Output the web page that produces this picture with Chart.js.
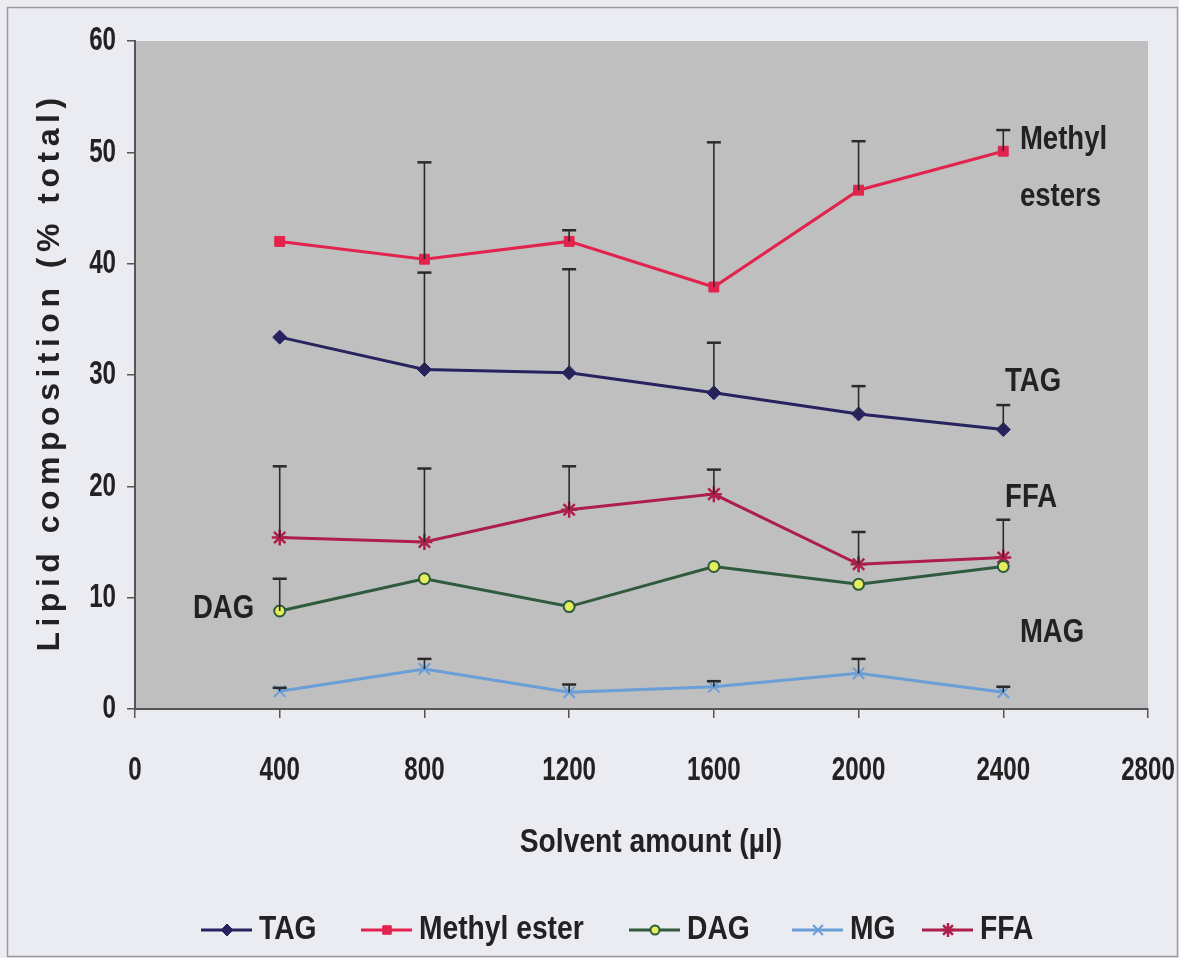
<!DOCTYPE html>
<html>
<head>
<meta charset="utf-8">
<title>Lipid composition vs solvent amount</title>
<script src="https://cdn.jsdelivr.net/npm/chart.js@4/dist/chart.umd.min.js"></script>
<style>
  html, body { margin: 0; padding: 0; background: #ebebf2; }
  #wrap { width: 1179px; height: 958px; }
</style>
</head>
<body>
<div id="wrap"><canvas id="lipidChart" width="1179" height="958"></canvas></div>
<script>
// solvent amount (µl) and lipid composition (% total) per fraction
var solvent = [400, 800, 1200, 1600, 2000, 2400];

var tag    = [33.4, 30.5, 30.2, 28.4, 26.5, 25.1];
var methyl = [42.0, 40.4, 42.0, 37.9, 46.6, 50.1];
var dag    = [8.8, 11.7, 9.2, 12.8, 11.2, 12.8];
var mg     = [1.6, 3.6, 1.5, 2.0, 3.2, 1.5];
var ffa    = [15.4, 15.0, 17.9, 19.3, 13.0, 13.6];

// upper error bars (SD)
var tagErr    = [0, 8.7, 9.3, 4.5, 2.5, 2.2];
var methylErr = [0, 8.7, 1.0, 13.0, 4.4, 1.9];
var dagErr    = [2.9, 0, 0, 0, 0, 0];
var mgErr     = [0.3, 0.9, 0.7, 0.5, 1.3, 0.5];
var ffaErr    = [6.4, 6.6, 3.9, 2.2, 2.9, 3.4];

var legendNames = ["TAG", "Methyl ester", "DAG", "MG", "FFA"];

// text labels beside the curves, in axis units
var curveLabels = [
  { text: "Methyl", x: 2446, y: 51.1 },
  { text: "esters", x: 2446, y: 46.0 },
  { text: "TAG", x: 2405, y: 29.4 },
  { text: "FFA", x: 2405, y: 19.0 },
  { text: "DAG", x: 160, y: 9.0 },
  { text: "MAG", x: 2446, y: 6.9 }
];

var FONT = "'Liberation Sans', Arial, sans-serif";
var INK = "#222222";

function pts(values) {
  return solvent.map(function (s, i) { return { x: s, y: values[i] }; });
}

function series(label, values, err, color, style, fill, radius, bw) {
  return {
    label: label,
    data: pts(values),
    errUp: err,
    borderColor: color,
    borderWidth: 3,
    pointStyle: style,
    pointRadius: radius,
    pointHoverRadius: radius,
    pointBackgroundColor: fill,
    pointBorderColor: style === "circle" ? "#2f5a3c" : color,
    pointBorderWidth: bw,
    tension: 0,
    fill: false
  };
}

var datasets = [
  series(legendNames[0], tag, tagErr, "#27235f", "rectRot", "#27235f", 7, 1),
  series(legendNames[1], methyl, methylErr, "#e2234d", "rect", "#e2234d", 7, 1),
  series(legendNames[2], dag, dagErr, "#2f5a3c", "circle", "#e4ee5c", 5.5, 2),
  series(legendNames[3], mg, mgErr, "#6a9ed6", "crossRot", "#6a9ed6", 8, 2),
  series(legendNames[4], ffa, ffaErr, "#ad1f4a", "star", "#ad1f4a", 8, 2.5)
];

// condensed bold text: squeeze horizontally around the anchor
function narrowText(ctx, text, x, y, size, sx, align) {
  ctx.save();
  ctx.fillStyle = INK;
  ctx.font = "bold " + size + "px " + FONT;
  ctx.textAlign = align || "left";
  ctx.textBaseline = "middle";
  ctx.translate(x, y);
  ctx.scale(sx, 1);
  ctx.fillText(text, 0, 0);
  ctx.restore();
}

// page colour, outer frame and the grey plot area
var backdrop = {
  id: "backdrop",
  beforeDraw: function (chart) {
    var ctx = chart.ctx, a = chart.chartArea;
    ctx.save();
    ctx.fillStyle = "#ebebf2";
    ctx.fillRect(0, 0, chart.width, chart.height);
    ctx.strokeStyle = "#9a9a9e";
    ctx.lineWidth = 1.5;
    ctx.strokeRect(7.5, 7.5, chart.width - 9, chart.height - 9);
    ctx.fillStyle = "#bfbfc0";
    ctx.fillRect(a.left, a.top, a.right - a.left, a.bottom - a.top);
    ctx.restore();
  }
};

// one-sided (upper) error bars with caps
var errorBars = {
  id: "errorBars",
  afterDatasetsDraw: function (chart) {
    var ctx = chart.ctx, xs = chart.scales.x, ys = chart.scales.y;
    ctx.save();
    ctx.strokeStyle = "#2a2a2a";
    ctx.lineWidth = 1.6;
    chart.data.datasets.forEach(function (ds) {
      ds.data.forEach(function (p, i) {
        var e = ds.errUp[i];
        if (!e) return;
        var px = xs.getPixelForValue(p.x);
        var y0 = ys.getPixelForValue(p.y);
        var y1 = ys.getPixelForValue(p.y + e);
        ctx.beginPath();
        ctx.moveTo(px, y0);
        ctx.lineTo(px, y1);
        ctx.stroke();
        ctx.lineWidth = 2.5;
        ctx.beginPath();
        ctx.moveTo(px - 7, y1);
        ctx.lineTo(px + 7, y1);
        ctx.stroke();
        ctx.lineWidth = 1.6;
      });
    });
    ctx.restore();
  }
};

// tick labels, axis titles, curve labels and the legend row
var texts = {
  id: "texts",
  afterDraw: function (chart) {
    var ctx = chart.ctx, xs = chart.scales.x, ys = chart.scales.y, a = chart.chartArea;
    var H = Chart.helpers;

    xs.ticks.forEach(function (t) {
      narrowText(ctx, String(t.value), xs.getPixelForValue(t.value), 771, 34, 0.71, "center");
    });
    ys.ticks.forEach(function (t) {
      narrowText(ctx, String(t.value), 116, ys.getPixelForValue(t.value), 34, 0.71, "right");
    });

    narrowText(ctx, "Solvent amount (µl)", 651, 843, 34, 0.83, "center");

    ctx.save();
    ctx.fillStyle = INK;
    ctx.font = "bold 32px " + FONT;
    ctx.textAlign = "center";
    ctx.textBaseline = "middle";
    ctx.translate(50, (a.top + a.bottom) / 2);
    ctx.rotate(-Math.PI / 2);
    ctx.letterSpacing = "5.5px";
    ctx.fillText("Lipid composition (% total)", 3, 0);
    ctx.restore();

    curveLabels.forEach(function (l) {
      narrowText(ctx, l.text, xs.getPixelForValue(l.x), ys.getPixelForValue(l.y), 34, 0.81, "left");
    });

    // legend
    var legendX = [201, 361, 629, 792, 922];
    var ly = 930;
    ctx.save();
    chart.data.datasets.forEach(function (ds, i) {
      var x0 = legendX[i];
      ctx.strokeStyle = ds.borderColor;
      ctx.lineWidth = 3;
      ctx.beginPath();
      ctx.moveTo(x0, ly);
      ctx.lineTo(x0 + 51, ly);
      ctx.stroke();
      ctx.fillStyle = ds.pointBackgroundColor;
      ctx.strokeStyle = ds.pointBorderColor;
      ctx.lineWidth = ds.pointBorderWidth;
      H.drawPoint(ctx, { pointStyle: ds.pointStyle, radius: ds.pointRadius - 1, rotation: 0, borderWidth: ds.pointBorderWidth }, x0 + 26, ly);
      narrowText(ctx, ds.label, x0 + 58, ly, 34, 0.83, "left");
    });
    ctx.restore();
  }
};

new Chart("lipidChart", {
  type: "line",
  data: { datasets: datasets },
  plugins: [backdrop, errorBars, texts],
  options: {
    responsive: false,
    animation: false,
    events: [],
    layout: { padding: { left: 0, top: 41, right: 31, bottom: 95 } },
    plugins: {
      legend: { display: false },
      tooltip: { enabled: false }
    },
    scales: {
      x: {
        type: "linear",
        min: 0,
        max: 2800,
        afterFit: function (scale) { scale.height = 154; },
        ticks: { stepSize: 400, display: false },
        grid: { drawOnChartArea: false, drawTicks: true, tickLength: 9, color: "#555", lineWidth: 1.5 },
        border: { display: true, color: "#555", width: 2 }
      },
      y: {
        min: 0,
        max: 60,
        afterFit: function (scale) { scale.width = 135; },
        ticks: { stepSize: 10, display: false },
        grid: { drawOnChartArea: false, drawTicks: true, tickLength: 8, color: "#555", lineWidth: 1.5 },
        border: { display: true, color: "#555", width: 2 }
      }
    }
  }
});
</script>
</body>
</html>
